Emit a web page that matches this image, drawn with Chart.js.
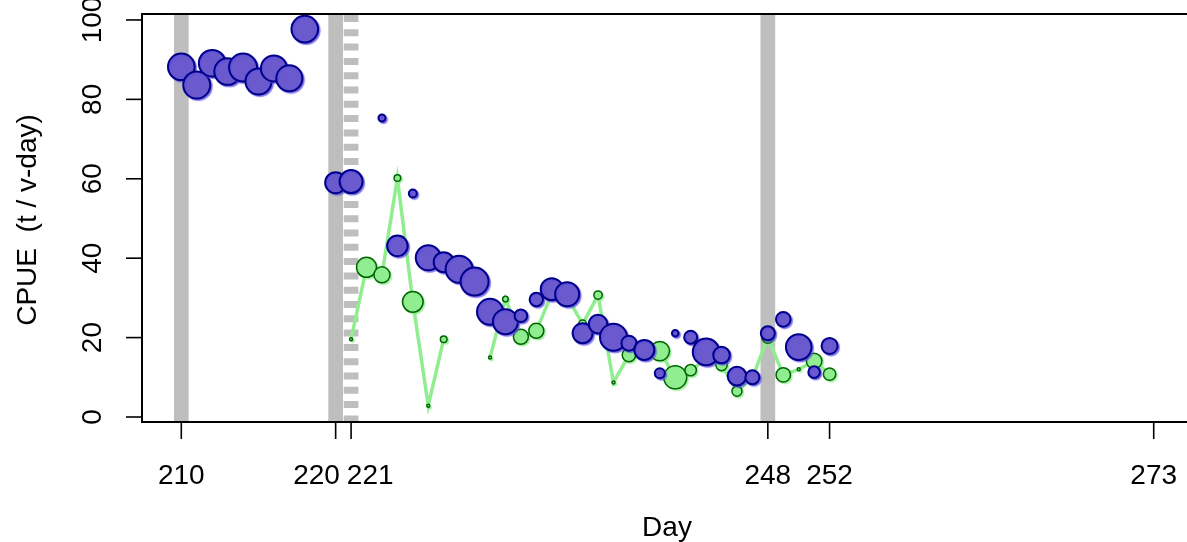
<!DOCTYPE html>
<html>
<head>
<meta charset="utf-8">
<script src="https://cdn.jsdelivr.net/npm/chart.js@4.4.1/dist/chart.umd.min.js"></script>
<style>
  html, body { margin: 0; padding: 0; background: #fff; overflow: hidden; }
  canvas { display: block; }
</style>
</head>
<body>
<canvas id="cpueChart" width="1187" height="542"></canvas>
<script>
// days of the season
const days = [210, 211, 212, 213, 214, 215, 216, 217, 218, 219,
              220, 221, 222, 223, 224, 225, 226, 227, 228, 229,
              230, 231, 232, 233, 234, 235, 236, 237, 238, 239,
              240, 241, 242, 243, 244, 245, 246, 247, 248, 249,
              250, 251, 252];

// CPUE of the blue fleet (t / v-day), null = no fishing
const blueCpue = [88.2, 83.6, 89.1, 87.0, 88.0, 84.5, 87.8, 85.3, 97.7, null,
                  59.0, 59.3, null, 75.3, 43.1, 56.3, 40.1, 39.0, 37.2, 34.1,
                  26.5, 24.0, 25.5, 29.6, 32.2, 30.9, 21.1, 23.4, 20.1, 18.6,
                  16.9, 11.0, 21.1, 20.1, 16.4, 15.6, 10.3, 10.0, 21.1, 24.6,
                  17.6, 11.3, 17.9];
// relative symbol size (effort) of the blue fleet
const blueCex = [2.66, 2.7, 2.66, 2.66, 2.8, 2.6, 2.6, 2.6, 2.66, null,
                 2.1, 2.3, null, 0.7, 2.06, 0.8, 2.5, 2.0, 2.7, 2.8,
                 2.6, 2.5, 1.26, 1.34, 2.2, 2.4, 2.0, 1.86, 2.7, 1.5,
                 2.0, 1.0, 0.66, 1.3, 2.66, 1.66, 1.86, 1.4, 1.4, 1.46,
                 2.56, 1.16, 1.6];

// CPUE of the green fleet
const greenCpue = [null, null, null, null, null, null, null, null, null, null,
                   null, 19.6, 37.7, 35.8, 60.2, 29.0, 2.85, 19.6, null, null,
                   15.0, 29.7, 20.2, 21.7, 31.0, 30.3, 23.4, 30.7, 8.7, 15.6,
                   16.5, 16.6, 10.0, 11.8, 14.5, 13.1, 6.5, 9.8, 20.1, 10.6,
                   12.0, 14.1, 10.8];
const greenCex = [null, null, null, null, null, null, null, null, null, null,
                  null, 0.3, 2.0, 1.6, 0.66, 2.06, 0.3, 0.66, null, null,
                  0.3, 0.56, 1.5, 1.5, 0.8, 0.8, 0.8, 0.84, 0.3, 1.34,
                  1.0, 1.94, 2.3, 1.14, 1.0, 1.14, 1.0, 1.0, 1.2, 1.44,
                  0.3, 1.56, 1.24];

const xTicks = [210, 220, 221, 248, 252, 273];
const yTicks = [0, 20, 40, 60, 80, 100];
const bandDays = [210, 220, 248];   // solid grey markers
const dashedBandDays = [221];       // dashed grey marker

const FONT = '28px "Liberation Sans", Arial, sans-serif';
const CEX_PX = 5;

function pts(values) {
    return days.map((d, i) => ({ x: d, y: values[i] }));
}

// R-like frame, ticks, labels and the grey day markers
const rFrame = {
    id: 'rFrame',
    beforeDatasetsDraw(chart) {
        const { ctx, chartArea: a, scales: { x } } = chart;
        ctx.save();
        ctx.strokeStyle = '#bebebe';
        ctx.lineWidth = 14.7;
        bandDays.forEach(d => {
            const px = x.getPixelForValue(d);
            ctx.beginPath(); ctx.moveTo(px, a.top); ctx.lineTo(px, a.bottom); ctx.stroke();
        });
        ctx.setLineDash([7, 7.3]);
        dashedBandDays.forEach(d => {
            const px = x.getPixelForValue(d);
            ctx.beginPath(); ctx.moveTo(px, a.top + 1); ctx.lineTo(px, a.bottom); ctx.stroke();
        });
        ctx.restore();
    },
    beforeDatasetDraw(chart, args) {
        const lbl = args.meta.label;
        const ctx = chart.ctx;
        if (lbl === 'blue') {
            ctx.shadowColor = 'rgba(95, 80, 225, 0.7)';
        } else if (lbl === 'green pts') {
            ctx.shadowColor = 'rgba(140, 235, 140, 0.7)';
        } else {
            return;
        }
        ctx.shadowOffsetX = 1.5;
        ctx.shadowOffsetY = 1.5;
        ctx.shadowBlur = 1;
    },
    afterDatasetDraw(chart) {
        const ctx = chart.ctx;
        ctx.shadowColor = 'rgba(0,0,0,0)';
        ctx.shadowOffsetX = 0;
        ctx.shadowOffsetY = 0;
        ctx.shadowBlur = 0;
    },
    afterDraw(chart) {
        const { ctx, chartArea: a, scales: { x, y } } = chart;
        ctx.save();
        ctx.strokeStyle = '#000';
        ctx.lineWidth = 2;
        // box: the right side lies just outside the picture
        ctx.beginPath();
        ctx.moveTo(chart.width + 5, a.top);
        ctx.lineTo(a.left, a.top);
        ctx.lineTo(a.left, a.bottom);
        ctx.lineTo(chart.width + 5, a.bottom);
        ctx.stroke();

        ctx.lineWidth = 1.6;
        x.ticks.forEach(t => {
            const px = x.getPixelForValue(t.value);
            ctx.beginPath(); ctx.moveTo(px, a.bottom); ctx.lineTo(px, a.bottom + 17); ctx.stroke();
        });
        y.ticks.forEach(t => {
            const py = y.getPixelForValue(t.value);
            ctx.beginPath(); ctx.moveTo(a.left - 16, py); ctx.lineTo(a.left, py); ctx.stroke();
        });

        ctx.font = FONT;
        ctx.fillStyle = '#000';
        ctx.textBaseline = 'alphabetic';
        ctx.textAlign = 'center';

        // x labels, pushed apart where they would overlap
        const items = x.ticks.map(t => {
            const label = String(t.value);
            return { label, c: x.getPixelForValue(t.value), w: ctx.measureText(label).width };
        });
        for (let i = 0; i < items.length - 1; i++) {
            const l = items[i], r = items[i + 1];
            const need = (l.w + r.w) / 2 + 7;
            const gap = r.c - l.c;
            if (gap < need) {
                const s = (need - gap) / 2;
                l.c -= s; r.c += s;
            }
        }
        items.forEach(it => ctx.fillText(it.label, it.c, a.bottom + 62));

        // y labels, rotated like R's default las = 0
        y.ticks.forEach(t => {
            const py = y.getPixelForValue(t.value);
            ctx.save();
            ctx.translate(a.left - 41, py);
            ctx.rotate(-Math.PI / 2);
            ctx.fillText(String(t.value), 0, 0);
            ctx.restore();
        });

        // axis titles
        ctx.fillText('Day', 667, a.bottom + 114);
        ctx.save();
        ctx.translate(36, (a.top + a.bottom) / 2 + 2);
        ctx.rotate(-Math.PI / 2);
        ctx.fillText('CPUE  (t / v-day)', 0, 0);
        ctx.restore();
        ctx.restore();
    }
};

const ctx = document.getElementById('cpueChart').getContext('2d');
const cpueChart = new Chart(ctx, {
    type: 'scatter',
    data: {
        datasets: [
            {
                label: 'blue',
                data: pts(blueCpue),
                pointRadius: blueCex.map(c => (c || 0) * CEX_PX),
                pointBackgroundColor: '#6a5acd',
                pointBorderColor: '#00008b',
                pointBorderWidth: 2,
                order: 1
            },
            {
                label: 'green pts',
                data: pts(greenCpue),
                pointRadius: greenCex.map(c => (c || 0) * CEX_PX),
                pointBackgroundColor: '#90ee90',
                pointBorderColor: '#006400',
                pointBorderWidth: 1.5,
                order: 2
            },
            {
                label: 'green line',
                data: pts(greenCpue),
                showLine: true,
                spanGaps: false,
                borderColor: '#90ee90',
                borderWidth: 3.5,
                pointRadius: 0,
                order: 3
            }
        ]
    },
    options: {
        responsive: false,
        animation: false,
        layout: { autoPadding: false, padding: { left: 0, top: 14, right: 0, bottom: 0 } },
        plugins: {
            legend: { display: false },
            tooltip: { enabled: false }
        },
        scales: {
            x: {
                type: 'linear',
                min: 207.454,
                max: 275.157,
                afterBuildTicks: s => { s.ticks = xTicks.map(v => ({ value: v })); },
                afterFit: s => { s.height = 120; },
                ticks: { display: false },
                grid: { display: false },
                border: { display: false }
            },
            y: {
                type: 'linear',
                min: -1.26,
                max: 101.5,
                afterBuildTicks: s => { s.ticks = yTicks.map(v => ({ value: v })); },
                afterFit: s => { s.width = 142; },
                ticks: { display: false },
                grid: { display: false },
                border: { display: false }
            }
        }
    },
    plugins: [rFrame]
});
</script>
</body>
</html>
